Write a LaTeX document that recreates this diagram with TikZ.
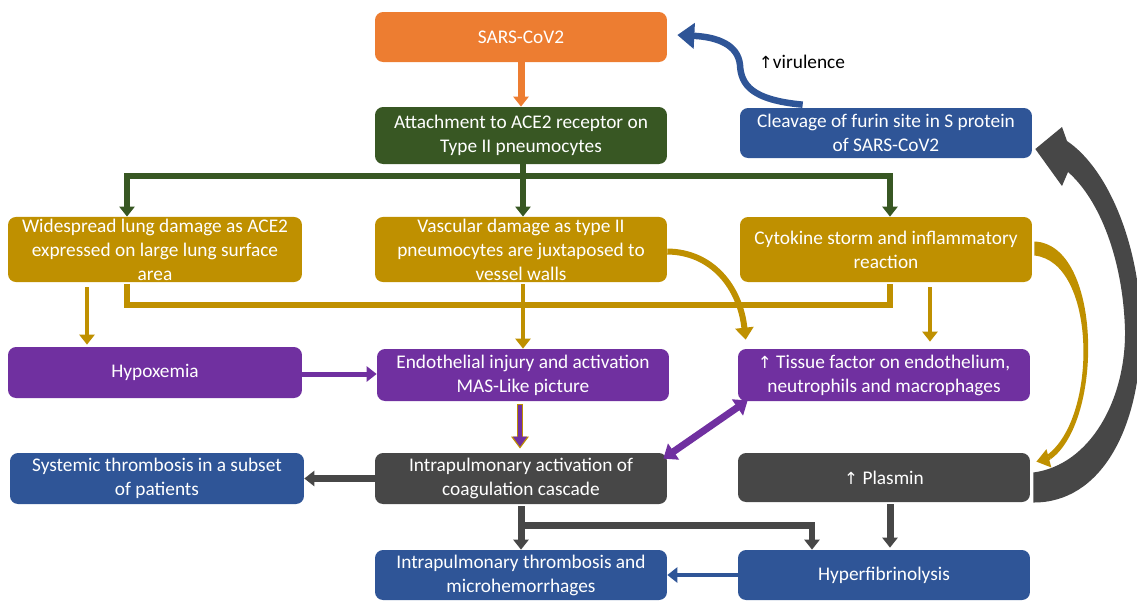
\documentclass[tikz,border=0pt]{standalone}
\usepackage{fontspec}
\setmainfont{Carlito}
\newfontfamily\arrowfont{DejaVu Sans}
\usetikzlibrary{arrows.meta,calc}
\definecolor{corange}{HTML}{ED7D31}
\definecolor{cgreen}{HTML}{385723}
\definecolor{cblue}{HTML}{2F5597}
\definecolor{cgold}{HTML}{BF9000}
\definecolor{cpurple}{HTML}{7030A0}
\definecolor{cgrey}{HTML}{474747}
\newcommand{\upar}{{\arrowfont\fontsize{9.5}{11}\selectfont ↑}}
\begin{document}
\begin{tikzpicture}[x=0.02cm,y=-0.02cm,
  box/.style={rectangle, rounded corners=0.16cm, text=white, align=center,
    minimum width=5.84cm, inner sep=1pt, font=\fontsize{11}{13.66}\selectfont},
  tip/.style={-{Triangle[length=0.2cm,width=0.3cm]}},
  greenln/.style={draw=cgreen, line width=0.12cm},
  goldln/.style={draw=cgold, line width=0.09cm},
  purpln/.style={draw=cpurple, line width=0.1cm},
  greyln/.style={draw=cgrey, line width=0.14cm},
  blueln/.style={draw=cblue, line width=0.08cm}]
\useasboundingbox (0,0) rectangle (1137,600);

% nodes
\node[box, fill=corange, minimum height=1.0cm] (sars) at (521,37) {SARS-CoV2};
\node[box, fill=cgreen, minimum height=1.14cm] (att) at (521,135.5) {Attachment to ACE2 receptor on\\Type II pneumocytes};
\node[box, fill=cblue, minimum height=1.0cm] (cleav) at (886,133) {Cleavage of furin site in S protein\\of SARS-CoV2};
\node[box, fill=cgold, minimum width=5.88cm, minimum height=1.3cm] (wide) at (155,249.5) {Widespread lung damage as ACE2\\expressed on large lung surface\\area};
\node[box, fill=cgold, minimum height=1.3cm] (vasc) at (521,249.5) {Vascular damage as type II\\pneumocytes are juxtaposed to\\vessel walls};
\node[box, fill=cgold, minimum height=1.3cm] (cyto) at (886,249.5) {Cytokine storm and inflammatory\\reaction};
\node[box, fill=cpurple, minimum width=5.88cm, minimum height=1.02cm] (hypox) at (155,372.5) {Hypoxemia};
\node[box, fill=cpurple, minimum height=1.04cm] (endo) at (523,375) {Endothelial injury and activation\\MAS-Like picture};
\node[box, fill=cpurple, minimum height=1.04cm] (tissue) at (884,375) {\upar{} Tissue factor on endothelium,\\neutrophils and macrophages};
\node[box, fill=cblue, minimum width=5.88cm, minimum height=1.02cm] (syst) at (157,478.5) {Systemic thrombosis in a subset\\of patients};
\node[box, fill=cgrey, minimum height=1.02cm] (iact) at (521,478.5) {Intrapulmonary activation of\\coagulation cascade};
\node[box, fill=cgrey, minimum height=0.98cm] (plasmin) at (884,477.5) {\upar{} Plasmin};
\node[box, fill=cblue, minimum height=1.0cm] (thromb) at (521,575) {Intrapulmonary thrombosis and\\microhemorrhages};
\node[box, fill=cblue, minimum height=1.0cm] (hyper) at (884,575) {Hyperfibrinolysis};
\node[font=\fontsize{11}{13.66}\selectfont, text=black, inner sep=0pt] (vir) at (802,62) {\upar virulence};

% orange
\draw[draw=corange, line width=0.14cm, tip] (sars.south) -- (att.north);

% green tree
\coordinate (gj) at (523,176);
\draw[greenln] ($(att.south)+(2,0)$) -- (gj);
\draw[greenln, tip] (gj) -| ($(wide.north)+(-28,0)$);
\draw[greenln, tip] (gj) -| ($(cyto.north)+(4,0)$);
\draw[greenln, tip] (gj) -- ($(vasc.north)+(2,0)$);

% gold
\draw[goldln, tip] ($(wide.south)+(-68,5)$) -- ($(hypox.north)+(-68,-2)$);
\draw[draw=cgold, line width=0.12cm] ($(wide.south)+(-28,2)$) -- ++(0,21) -| ($(cyto.south)+(4,2)$);
\draw[goldln, tip] ($(vasc.south)+(2,2)$) -- ($(endo.north)$);
\draw[goldln, tip] ($(cyto.south)+(44,5)$) -- ($(tissue.north)+(46,-7)$);
\draw[draw=cgold, line width=0.12cm, -{Triangle[length=0.24cm,width=0.36cm]}] ($(vasc.east)+(0,2)$) .. controls (712,252) and (740,287) .. ($(tissue.north west)+(8,-9)$);
% tapered gold curve cytokine -> plasmin
\fill[cgold] ($(cyto.east)+(2,-8)$) .. controls (1102,244) and (1104,420) .. (1051,459)
  -- (1047,455) .. controls (1098,418) and (1097,262) .. ($(cyto.east)+(2,6)$) -- cycle;
\coordinate (gend) at (1050,458);
\draw[draw=cgold, line width=0.07cm, -{Triangle[length=0.26cm,width=0.36cm]}] (gend) -- ($(plasmin.north east)+(6,9)$);

% purple
\draw[purpln, tip] ($(hypox.east)+(0,1.5)$) -- ($(hypox.east -| endo.west)+(0,1.5)$);
\draw[draw=cgold, line width=0.13cm, -{Triangle[length=0.24cm,width=0.34cm]}] ($(endo.south)+(-3,3)$) -- ($(iact.north)+(-1,-4)$);
\draw[draw=cpurple, line width=0.07cm, -{Triangle[length=0.2cm,width=0.27cm]}] ($(endo.south)+(-3,4)$) -- ($(iact.north)+(-1,-6)$);
\draw[draw=cpurple, line width=0.14cm, {Triangle[length=0.25cm,width=0.38cm]}-{Triangle[length=0.25cm,width=0.38cm]}] ($(iact.north east)+(-4,6)$) -- ($(tissue.south west)+(10,-1)$);

% grey
\draw[draw=cgrey, line width=0.13cm, tip] (iact.west) -- (syst.east);
\draw[greyln, tip] ($(iact.south)+(0,2)$) -- (thromb.north);
\draw[draw=cgrey, line width=0.13cm, tip] ($(iact.south)+(0,21)$) -| ($(hyper.north)+(-72,0)$);
\draw[greyln, tip] ($(plasmin.south)+(6,2)$) -- ($(hyper.north)+(6,-2)$);

% blue
\draw[blueln, tip] (hyper.west) -- (thromb.east);
\draw[draw=cblue, line width=0.13cm, -{Triangle[length=0.34cm,width=0.5cm]}] ($(cleav.north west)+(63,-3)$) .. controls (752,100) and (741,85) .. (740,65) .. controls (738,45) and (718,37) .. ($(sars.east)+(10,-2)$);

% big grey curved arrow from plasmin to cleavage
\fill[cgrey] ($(plasmin.east)+(3,-5)$) .. controls (1090,465) and (1126,400) .. (1125,330)
  .. controls (1123,260) and (1100,200) .. (1068,172) -- (1062,186) -- ($(cleav.east)+(3,16)$)
  -- (1062,127) -- (1067,141) .. controls (1110,170) and (1141,250) .. (1141,330)
  .. controls (1141,430) and (1100,503) .. ($(plasmin.east)+(3,25)$) -- cycle;
\end{tikzpicture}
\end{document}
